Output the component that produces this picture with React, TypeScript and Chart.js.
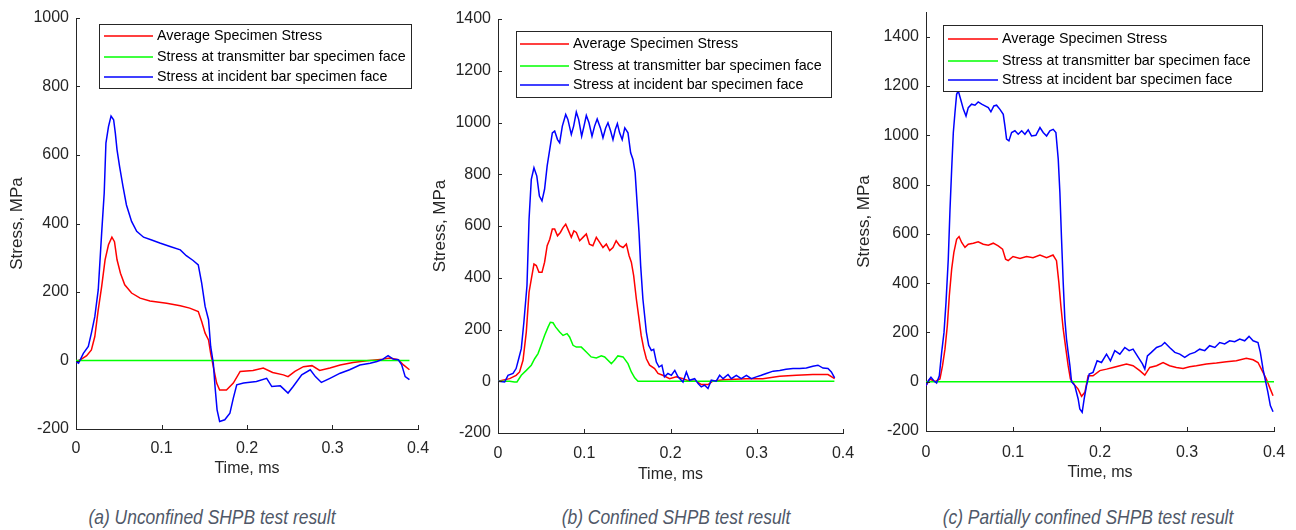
import React, { useEffect, useRef } from "react";
import { Chart, registerables } from "chart.js";

Chart.register(...registerables);

const FONT = '"Liberation Sans", Arial, Helvetica, sans-serif';
const INK = "#262626";

const SERIES_NAMES = [
  "Average Specimen Stress",
  "Stress at transmitter bar specimen face",
  "Stress at incident bar specimen face",
];
const SERIES_COLORS = ["#ff0000", "#00ff00", "#0000ff"];
const X_TITLE = "Time, ms";
const Y_TITLE = "Stress, MPa";
const CAPTIONS = [
  "(a) Unconfined SHPB test result",
  "(b) Confined SHPB test result",
  "(c) Partially confined SHPB test result",
];

// ---------- Panel (a) Unconfined ----------
const tA_avg = [0, 0.005, 0.0125, 0.018, 0.022, 0.026, 0.03, 0.034, 0.038, 0.042, 0.045, 0.048, 0.052, 0.057, 0.065, 0.075, 0.0865, 0.106, 0.122, 0.133, 0.143, 0.147, 0.151, 0.155, 0.1575, 0.1606, 0.1645, 0.168, 0.176, 0.184, 0.192, 0.207, 0.219, 0.23, 0.2425, 0.248, 0.256, 0.266, 0.276, 0.285, 0.297, 0.309, 0.324, 0.34, 0.359, 0.367, 0.377, 0.383, 0.39];
const sA_avg = [-3, 2, 14, 31, 70, 148, 216, 294, 338, 360, 347, 294, 255, 221, 197, 182, 174, 167, 160, 153, 143, 114, 80, 60, 21, -18, -66, -86, -86, -66, -32, -29, -22, -35, -42, -47, -32, -18, -15, -29, -22, -13, -6, -1, 4, 7, 2, -13, -27];
const tA_trans = [0, 0.39];
const sA_trans = [0, 0];
const tA_inc = [0, 0.003, 0.0086, 0.0144, 0.018, 0.022, 0.026, 0.03, 0.033, 0.035, 0.038, 0.041, 0.044, 0.046, 0.048, 0.051, 0.055, 0.059, 0.065, 0.071, 0.079, 0.0885, 0.098, 0.11, 0.122, 0.129, 0.137, 0.143, 0.147, 0.151, 0.155, 0.1575, 0.1606, 0.1626, 0.165, 0.168, 0.174, 0.18, 0.184, 0.188, 0.196, 0.211, 0.223, 0.229, 0.239, 0.248, 0.254, 0.264, 0.274, 0.28, 0.287, 0.297, 0.309, 0.32, 0.332, 0.344, 0.352, 0.359, 0.365, 0.371, 0.377, 0.381, 0.385, 0.39];
const sA_inc = [-3, -8, 21, 41, 80, 128, 206, 372, 489, 635, 683, 714, 703, 664, 615, 566, 508, 454, 406, 377, 360, 352, 343, 333, 323, 306, 292, 279, 226, 158, 119, 41, -8, -76, -144, -178, -173, -154, -110, -71, -66, -61, -52, -76, -74, -95, -76, -42, -27, -47, -64, -52, -37, -27, -13, -8, -3, 4, 14, 4, 2, -13, -47, -56];

// ---------- Panel (b) Confined ----------
const tB_avg = [0, 0.0135, 0.021, 0.025, 0.029, 0.0328, 0.036, 0.0386, 0.0417, 0.0444, 0.0475, 0.051, 0.054, 0.057, 0.06, 0.063, 0.0657, 0.069, 0.0723, 0.0754, 0.0785, 0.081, 0.085, 0.088, 0.0908, 0.0947, 0.0985, 0.1024, 0.106, 0.11, 0.114, 0.1179, 0.1217, 0.1256, 0.1295, 0.1333, 0.137, 0.141, 0.145, 0.1488, 0.152, 0.1546, 0.1573, 0.1604, 0.1635, 0.166, 0.169, 0.172, 0.1758, 0.1816, 0.1855, 0.191, 0.199, 0.2068, 0.2145, 0.222, 0.23, 0.2357, 0.2435, 0.249, 0.261, 0.288, 0.307, 0.3266, 0.346, 0.365, 0.3826, 0.3903];
const sB_avg = [0, 10, 23, 36, 81, 190, 344, 395, 453, 447, 421, 421, 460, 524, 549, 588, 588, 562, 575, 594, 607, 588, 556, 581, 575, 543, 556, 569, 530, 524, 556, 537, 517, 530, 505, 517, 543, 524, 517, 530, 485, 460, 408, 318, 241, 177, 126, 87, 62, 49, 30, 23, 10, 17, 10, 0, 0, -13, -13, 0, 6, 10, 10, 19, 23, 26, 26, 10];
const tB_trans = [0, 0.0135, 0.019, 0.022, 0.027, 0.0328, 0.0386, 0.0425, 0.0464, 0.05, 0.054, 0.058, 0.0607, 0.0638, 0.0669, 0.0715, 0.0754, 0.08, 0.083, 0.087, 0.0908, 0.0966, 0.1024, 0.108, 0.114, 0.1198, 0.1237, 0.1275, 0.1314, 0.135, 0.139, 0.145, 0.1507, 0.1546, 0.1585, 0.1623, 0.39];
const sB_trans = [0, 0, -3, -3, 23, 42, 62, 87, 107, 139, 177, 209, 228, 226, 209, 190, 177, 184, 171, 139, 132, 132, 113, 94, 90, 98, 94, 81, 68, 81, 98, 94, 68, 36, 13, 0, 0];
const tB_inc = [0, 0.0077, 0.0116, 0.0174, 0.021, 0.024, 0.027, 0.03, 0.0336, 0.036, 0.0386, 0.0417, 0.045, 0.048, 0.051, 0.054, 0.057, 0.06, 0.063, 0.0657, 0.069, 0.0715, 0.0746, 0.0785, 0.081, 0.085, 0.0877, 0.0908, 0.0935, 0.097, 0.0997, 0.1024, 0.1055, 0.109, 0.112, 0.115, 0.1187, 0.1217, 0.1248, 0.1275, 0.1306, 0.1333, 0.136, 0.1384, 0.141, 0.144, 0.147, 0.1507, 0.1538, 0.1565, 0.159, 0.161, 0.1635, 0.1654, 0.168, 0.17, 0.172, 0.1747, 0.1778, 0.1805, 0.1836, 0.1867, 0.19, 0.193, 0.197, 0.201, 0.205, 0.2087, 0.2145, 0.2184, 0.222, 0.228, 0.232, 0.2357, 0.2396, 0.2435, 0.2473, 0.253, 0.257, 0.261, 0.2667, 0.2705, 0.2763, 0.282, 0.288, 0.2937, 0.2995, 0.3053, 0.311, 0.319, 0.3266, 0.334, 0.342, 0.3498, 0.3575, 0.365, 0.371, 0.3768, 0.3826, 0.3865, 0.3903];
const sB_inc = [0, -3, 23, 30, 49, 87, 126, 228, 370, 626, 780, 825, 793, 716, 697, 742, 832, 896, 960, 967, 934, 922, 986, 1031, 1012, 954, 986, 1040, 1012, 947, 986, 1027, 999, 947, 986, 1014, 979, 941, 979, 999, 967, 934, 973, 996, 960, 934, 979, 960, 883, 857, 806, 703, 575, 447, 318, 254, 190, 139, 119, 123, 74, 55, 62, 17, 30, 23, 42, 17, -3, 36, 4, 10, -9, -22, -15, -28, 4, 0, 23, 10, 26, 10, 23, 10, 23, 10, 17, 23, 30, 39, 42, 46, 49, 49, 51, 58, 62, 51, 49, 36, 13];

// ---------- Panel (c) Partially confined ----------
const tC_avg = [0, 0.0046, 0.0103, 0.016, 0.019, 0.0218, 0.0245, 0.0268, 0.0295, 0.032, 0.0352, 0.038, 0.041, 0.0448, 0.0486, 0.0544, 0.06, 0.0658, 0.0716, 0.0773, 0.083, 0.088, 0.0915, 0.0945, 0.1, 0.108, 0.1156, 0.123, 0.131, 0.1386, 0.146, 0.15, 0.1527, 0.155, 0.1577, 0.1608, 0.1634, 0.166, 0.171, 0.1749, 0.1788, 0.1826, 0.1864, 0.192, 0.1998, 0.2075, 0.215, 0.2228, 0.2304, 0.238, 0.2457, 0.2515, 0.2572, 0.265, 0.2725, 0.28, 0.2878, 0.2955, 0.303, 0.3108, 0.3223, 0.3338, 0.3453, 0.3567, 0.3682, 0.376, 0.3816, 0.3874, 0.3912, 0.3958, 0.3989];
const sC_avg = [-16, 11, 0, 11, 65, 132, 227, 349, 457, 524, 578, 589, 565, 545, 558, 562, 568, 558, 554, 562, 551, 538, 497, 491, 508, 500, 508, 503, 514, 503, 514, 491, 403, 308, 214, 132, 65, 11, -14, -30, -59, -43, 24, 24, 45, 51, 58, 65, 72, 65, 45, 27, 58, 65, 78, 65, 58, 54, 61, 65, 72, 76, 81, 85, 95, 89, 78, 38, 11, -30, -57];
const tC_trans = [0, 0.4];
const sC_trans = [0, 0];
const tC_inc = [0, 0.0027, 0.0057, 0.009, 0.0122, 0.0153, 0.018, 0.0207, 0.023, 0.0256, 0.0276, 0.0295, 0.0314, 0.0333, 0.0352, 0.0371, 0.0398, 0.043, 0.046, 0.0486, 0.0524, 0.0563, 0.06, 0.064, 0.0678, 0.0716, 0.0746, 0.078, 0.0811, 0.085, 0.0888, 0.0907, 0.0926, 0.0953, 0.0984, 0.1022, 0.106, 0.11, 0.1137, 0.1175, 0.1213, 0.1263, 0.131, 0.1347, 0.1386, 0.1424, 0.1462, 0.1493, 0.152, 0.1539, 0.1558, 0.1577, 0.1596, 0.1615, 0.1634, 0.1654, 0.1673, 0.171, 0.1749, 0.1768, 0.1795, 0.1818, 0.1845, 0.1876, 0.192, 0.1967, 0.2017, 0.2075, 0.212, 0.217, 0.2228, 0.2285, 0.2335, 0.238, 0.244, 0.2488, 0.2515, 0.2545, 0.259, 0.265, 0.2706, 0.2744, 0.28, 0.286, 0.2917, 0.2974, 0.303, 0.309, 0.3146, 0.3204, 0.326, 0.332, 0.3376, 0.3433, 0.349, 0.3548, 0.3606, 0.3663, 0.3713, 0.376, 0.3816, 0.3843, 0.3874, 0.3904, 0.393, 0.3958, 0.3989];
const sC_inc = [-16, 4, 18, 4, -5, 24, 119, 200, 322, 497, 700, 862, 1011, 1092, 1166, 1180, 1146, 1105, 1078, 1112, 1126, 1122, 1135, 1126, 1119, 1112, 1095, 1119, 1122, 1105, 1085, 1038, 984, 977, 1011, 1018, 1004, 1018, 1004, 1022, 997, 1000, 1031, 1011, 997, 1018, 1024, 1011, 903, 768, 578, 403, 254, 173, 119, 65, 0, -16, -70, -111, -124, -70, -16, 31, 38, 85, 78, 112, 85, 126, 112, 139, 126, 132, 99, 72, 51, 105, 119, 139, 146, 159, 139, 119, 112, 99, 112, 119, 132, 126, 146, 139, 159, 153, 166, 162, 173, 166, 184, 166, 159, 119, 51, 0, -43, -97, -122];

const Y_MIN = [-200, -200, -200];
const Y_MAX = [1000, 1400, 1500];
const Y_TICK_MAX = [1000, 1400, 1400];

const PANELS = [
  {
    left: 0, width: 430, area: { l: 76, r: 418, t: 18, b: 429 }, tickPad: 10,
    yTitleX: 17, xTitleY: 469,
    legend: { x: 99, y: 24, w: 312, h: 64, l0: 104, l1: 153, tx: 157, rows: [36, 57, 77] },
    caption: 212,
    series: [[tA_avg, sA_avg], [tA_trans, sA_trans], [tA_inc, sA_inc]],
  },
  {
    left: 425, width: 435, area: { l: 73, r: 418, t: 19, b: 433 }, tickPad: 11,
    yTitleX: 15, xTitleY: 475,
    legend: { x: 91, y: 31, w: 315, h: 66, l0: 95, l1: 144, tx: 148, rows: [44, 66, 85] },
    caption: 676,
    series: [[tB_avg, sB_avg], [tB_trans, sB_trans], [tB_inc, sB_inc]],
  },
  {
    left: 850, width: 446, area: { l: 76, r: 424, t: 12, b: 431 }, tickPad: 12,
    yTitleX: 14, xTitleY: 473,
    legend: { x: 93, y: 25, w: 319, h: 66, l0: 98, l1: 148, tx: 152, rows: [39, 61, 80] },
    caption: 1088,
    series: [[tC_avg, sC_avg], [tC_trans, sC_trans], [tC_inc, sC_inc]],
  },
];

const CANVAS_H = 490;

const decorPlugin = {
  id: "decor",
  afterDraw(chart: any, _args: any, opts: any) {
    const ctx = chart.ctx;
    const ca = chart.chartArea;
    const xs = chart.scales.x;
    const ys = chart.scales.y;
    ctx.save();
    ctx.strokeStyle = INK;
    ctx.lineWidth = 1;
    xs.ticks.forEach((t: any) => {
      const px = Math.round(xs.getPixelForValue(t.value)) + 0.5;
      ctx.beginPath();
      ctx.moveTo(px, ca.bottom);
      ctx.lineTo(px, ca.bottom - 4);
      ctx.stroke();
    });
    ys.ticks.forEach((t: any) => {
      const py = Math.round(ys.getPixelForValue(t.value)) + 0.5;
      ctx.beginPath();
      ctx.moveTo(ca.left, py);
      ctx.lineTo(ca.left + 4, py);
      ctx.stroke();
    });
    // axis titles
    ctx.fillStyle = INK;
    ctx.font = `16px ${FONT}`;
    ctx.textAlign = "center";
    ctx.textBaseline = "middle";
    ctx.fillText(X_TITLE, (ca.left + ca.right) / 2, opts.xTitleY);
    ctx.save();
    ctx.translate(opts.yTitleX, (ca.top + ca.bottom) / 2);
    ctx.rotate(-Math.PI / 2);
    ctx.font = `17px ${FONT}`;
    ctx.fillText(Y_TITLE, 0, 0);
    ctx.restore();
    // legend box
    const L = opts.legend;
    ctx.fillStyle = "#ffffff";
    ctx.fillRect(L.x, L.y, L.w, L.h);
    ctx.strokeStyle = INK;
    ctx.lineWidth = 1;
    ctx.strokeRect(L.x + 0.5, L.y + 0.5, L.w, L.h);
    ctx.font = `14.3px ${FONT}`;
    ctx.textAlign = "left";
    ctx.textBaseline = "middle";
    SERIES_NAMES.forEach((name, i) => {
      const y = L.rows[i];
      ctx.strokeStyle = SERIES_COLORS[i];
      ctx.lineWidth = 1.5;
      ctx.beginPath();
      ctx.moveTo(L.l0, y);
      ctx.lineTo(L.l1, y);
      ctx.stroke();
      ctx.fillStyle = "#000000";
      ctx.fillText(name, L.tx, y);
    });
    ctx.restore();
  },
};

function Panel({ idx }: { idx: number }) {
  const ref = useRef<HTMLCanvasElement | null>(null);
  const p = PANELS[idx];
  useEffect(() => {
    if (!ref.current) return;
    const datasets = p.series.map(([ts, vs], i) => ({
      label: SERIES_NAMES[i],
      data: ts.map((t, k) => ({ x: t, y: vs[k] })),
      borderColor: SERIES_COLORS[i],
      backgroundColor: SERIES_COLORS[i],
      borderWidth: 1.5,
      pointRadius: 0,
      tension: 0,
      fill: false,
      order: 3 - i,
    }));
    const chart = new Chart(ref.current, {
      type: "line",
      data: { datasets },
      options: {
        animation: false,
        responsive: false,
        maintainAspectRatio: false,
        events: [],
        layout: {
          padding: { left: 0, top: p.area.t, right: p.width - p.area.r, bottom: 0 },
        },
        plugins: {
          legend: { display: false },
          tooltip: { enabled: false },
          decor: { xTitleY: p.xTitleY, yTitleX: p.yTitleX, legend: p.legend },
        } as any,
        scales: {
          x: {
            type: "linear",
            min: 0,
            max: 0.4,
            offset: false,
            grid: { display: false, drawTicks: false },
            border: { display: true, color: INK, width: 1 },
            ticks: {
              stepSize: 0.1,
              color: INK,
              padding: p.tickPad,
              maxRotation: 0,
              font: { family: FONT, size: 16 },
              callback: (v: any) => String(Math.round(Number(v) * 10) / 10),
            },
            afterFit: (s: any) => {
              s.height = CANVAS_H - p.area.b;
              s.paddingLeft = 0;
              s.paddingRight = 0;
            },
          },
          y: {
            type: "linear",
            min: Y_MIN[idx],
            max: Y_MAX[idx],
            grid: { display: false, drawTicks: false },
            border: { display: true, color: INK, width: 1 },
            ticks: {
              stepSize: 200,
              color: INK,
              padding: 7,
              font: { family: FONT, size: 16 },
              callback: (v: any) => String(Math.round(Number(v))),
            },
            afterBuildTicks: (s: any) => {
              s.ticks = s.ticks.filter((t: any) => t.value <= Y_TICK_MAX[idx]);
            },
            afterFit: (s: any) => {
              s.width = p.area.l;
              s.paddingTop = 0;
              s.paddingBottom = 0;
            },
          },
        },
      } as any,
      plugins: [decorPlugin],
    });
    return () => chart.destroy();
  }, []);
  return (
    <canvas
      ref={ref}
      width={p.width}
      height={CANVAS_H}
      style={{ position: "absolute", left: p.left, top: 0, width: p.width, height: CANVAS_H }}
    />
  );
}

export default function App() {
  return (
    <div
      style={{
        position: "fixed",
        left: 0,
        top: 0,
        width: 1296,
        height: 530,
        background: "#ffffff",
        overflow: "hidden",
      }}
    >
      {PANELS.map((_, i) => (
        <Panel key={i} idx={i} />
      ))}
      {PANELS.map((p, i) => (
        <div
          key={"c" + i}
          style={{
            position: "absolute",
            left: p.caption,
            top: 517,
            transform: "translate(-50%, -50%) scaleX(0.83)",
            whiteSpace: "nowrap",
            fontFamily: FONT,
            fontStyle: "italic",
            fontSize: 21,
            color: "#505868",
          }}
        >
          {CAPTIONS[i]}
        </div>
      ))}
    </div>
  );
}
